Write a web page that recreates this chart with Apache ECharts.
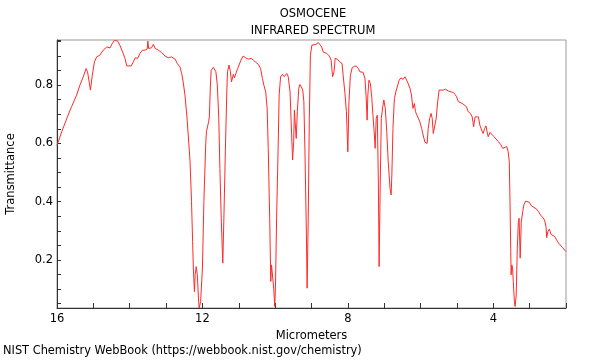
<!DOCTYPE html>
<html><head><meta charset="utf-8">
<script src="https://cdn.jsdelivr.net/npm/echarts@6/dist/echarts.min.js"></script>
<style>html,body{margin:0;padding:0;background:#fff}#c{width:600px;height:360px}</style>
</head><body><div id="c"></div>
<script>
var titleLines = ['OSMOCENE', 'INFRARED SPECTRUM'];
var xAxisName = 'Micrometers';
var yAxisName = 'Transmittance';
var footer = 'NIST Chemistry WebBook (https://webbook.nist.gov/chemistry)';
var xLabelValues = [16, 12, 8, 4];
var yLabelValues = [0.2, 0.4, 0.6, 0.8];

var micrometers = [16.00,15.87,15.73,15.60,15.46,15.37,15.28,15.20,15.16,15.08,15.03,14.97,14.91,14.82,14.73,14.63,14.54,14.48,14.42,14.33,14.27,14.18,14.13,14.08,13.96,13.90,13.85,13.78,13.72,13.65,13.58,
13.52,13.50,13.48,13.40,13.35,13.30,13.21,13.12,13.03,12.94,12.85,12.75,12.69,12.62,12.57,12.53,12.48,12.43,12.39,12.34,12.30,12.27,12.25,12.22,12.20,12.17,12.14,12.11,12.09,12.05,12.00,11.96,11.91,11.89,11.83,11.81,11.78,11.76,11.70,11.66,11.63,11.59,11.55,11.52,11.48,11.44,11.41,11.37,11.33,11.31,11.27,11.23,11.20,11.15,11.12,11.08,11.03,10.99,10.94,10.88,10.81,10.74,10.66,10.60,10.53,10.46,10.40,10.35,10.31,10.26,10.22,10.19,10.15,10.12,10.10,10.07,10.04,10.01,9.99,9.96,9.92,9.89,9.85,9.80,9.75,9.68,9.64,9.59,9.56,9.52,9.49,9.47,9.45,9.42,9.39,9.35,9.32,9.28,9.24,9.21,9.18,9.14,9.12,9.09,9.06,9.03,8.99,8.95,8.88,8.81,8.77,8.72,8.68,8.58,8.51,8.46,8.42,8.38,8.35,8.29,8.24,8.16,8.13,8.08,8.04,8.00,7.97,7.93,7.88,7.82,7.76,7.71,7.67,7.58,7.53,7.50,7.47,7.45,7.42,7.38,7.34,7.31,7.27,7.25,7.22,7.19,7.16,7.14,7.11,7.08,7.04,7.01,6.97,6.93,6.89,6.84,6.81,6.79,6.76,6.72,6.68,6.63,6.59,6.54,6.48,6.43,6.38,6.36,6.29,6.25,6.21,6.17,6.14,6.10,6.06,6.02,5.97,5.93,5.88,5.82,5.79,5.75,5.71,5.68,5.65,5.60,5.57,5.53,5.49,5.44,5.38,5.31,5.24,5.16,5.10,5.05,5.01,4.96,4.91,4.85,4.80,4.74,4.69,4.63,4.58,4.54,4.50,4.46,4.41,4.37,4.32,4.28,4.24,4.20,4.17,4.14,4.09,4.04,3.98,3.93,3.86,3.80,3.74,3.69,3.63,3.59,3.56,3.54,3.52,3.51,3.49,3.47,3.45,3.42,3.40,3.37,3.34,3.31,3.29,3.26,3.23,3.19,3.16,3.11,3.07,3.01,2.95,2.88,2.81,2.76,2.70,2.64,2.59,2.55,2.53,2.50,2.46,2.41,2.37,2.31,2.26,2.20,2.15,2.09,2.04,2.00];

var transmittance = [0.594,0.640,0.686,0.726,0.766,0.800,0.828,0.857,0.846,0.783,0.834,0.880,0.897,0.903,0.920,0.931,0.928,0.943,0.954,0.951,0.937,0.909,0.892,0.866,0.866,0.880,0.894,0.892,0.909,0.920,0.920,
0.924,0.951,0.926,0.928,0.940,0.926,0.920,0.912,0.900,0.894,0.897,0.889,0.874,0.863,0.840,0.811,0.766,0.697,0.629,0.537,0.400,0.263,0.172,0.091,0.149,0.177,0.149,0.069,0.034,0.057,0.172,0.400,0.594,0.640,0.674,0.691,0.800,0.851,0.861,0.863,0.846,0.800,0.686,0.514,0.331,0.189,0.343,0.571,0.777,0.846,0.869,0.846,0.811,0.837,0.825,0.840,0.857,0.855,0.886,0.900,0.894,0.889,0.892,0.886,0.878,0.871,0.857,0.823,0.800,0.777,0.720,0.583,0.343,0.126,0.183,0.189,0.103,0.040,0.114,0.343,0.571,0.766,0.829,0.837,0.829,0.840,0.829,0.777,0.674,0.543,0.606,0.714,0.674,0.617,0.709,0.789,0.802,0.794,0.783,0.743,0.571,0.286,0.103,0.343,0.686,0.903,0.937,0.943,0.940,0.946,0.943,0.931,0.914,0.909,0.900,0.886,0.829,0.846,0.892,0.889,0.882,0.874,0.834,0.772,0.709,0.571,0.743,0.834,0.860,0.865,0.865,0.857,0.846,0.844,0.823,0.766,0.680,0.766,0.817,0.806,0.754,0.697,0.629,0.583,0.686,0.697,0.457,0.177,0.457,0.686,0.726,0.749,0.720,0.640,0.537,0.446,0.423,0.491,0.651,0.754,0.777,0.783,0.817,0.825,0.820,0.829,0.829,0.811,0.789,0.766,0.720,0.737,0.709,0.697,0.703,0.674,0.651,0.629,0.604,0.600,0.651,0.686,0.703,0.686,0.634,0.634,0.686,0.743,0.783,0.789,0.783,0.786,0.780,0.777,0.775,0.768,0.760,0.743,0.749,0.737,0.731,0.726,0.709,0.703,0.691,0.657,0.691,0.697,0.691,0.663,0.646,0.634,0.651,0.660,0.640,0.623,0.638,0.634,0.623,0.617,0.606,0.597,0.583,0.581,0.589,0.571,0.537,0.400,0.229,0.149,0.183,0.172,0.126,0.057,0.040,0.080,0.240,0.331,0.343,0.206,0.331,0.366,0.389,0.402,0.403,0.398,0.386,0.380,0.375,0.366,0.354,0.346,0.337,0.314,0.277,0.297,0.306,0.288,0.286,0.280,0.269,0.257,0.251,0.242,0.234,0.229];

var points = micrometers.map(function (x, i) { return [x, transmittance[i]]; });
var FONT = 'DejaVu Sans';
var FS = 11.5;
function isLabel(list, v) {
  for (var i = 0; i < list.length; i++) if (Math.abs(list[i] - v) < 1e-6) return true;
  return false;
}

var chart = echarts.init(document.getElementById('c'), null, {renderer: 'canvas'});
chart.setOption({
  animation: false,
  backgroundColor: '#fff',
  title: {
    text: titleLines.join('\n'),
    left: 308, textAlign: 'center', top: 1,
    textStyle: {fontFamily: FONT, fontSize: FS, fontWeight: 'normal', color: '#000', lineHeight: 17}
  },
  graphic: [{
    type: 'text', left: 3, top: 346,
    style: {text: footer, fontFamily: FONT, fontSize: 11.4, fill: '#000'}
  }],
  grid: {left: 57, right: 34, top: 40, bottom: 52, outerBoundsMode: 'none', containLabel: false,
    show: true, borderColor: '#999', borderWidth: 1, backgroundColor: 'transparent'},
  xAxis: {
    type: 'value', inverse: true, min: 2, max: 16, interval: 1,
    name: xAxisName, nameLocation: 'middle', nameGap: 18,
    nameTextStyle: {fontFamily: FONT, fontSize: FS, color: '#000'},
    axisLine: {show: true, onZero: false, lineStyle: {color: '#333', width: 1}},
    axisTick: {show: true, inside: true, length: 5, lineStyle: {color: '#333'}},
    axisLabel: {fontFamily: FONT, fontSize: FS, color: '#000', margin: 5,
      formatter: function (v) { return isLabel(xLabelValues, v) ? String(v) : ''; }},
    splitLine: {show: false}
  },
  yAxis: {
    type: 'value', min: 0.035, max: 0.955, splitNumber: 18,
    name: yAxisName, nameLocation: 'middle', nameGap: 40,
    nameTextStyle: {fontFamily: FONT, fontSize: FS, color: '#000'},
    axisLine: {show: true, onZero: false, lineStyle: {color: '#333', width: 1}},
    axisTick: {show: true, inside: true, length: 4, lineStyle: {color: '#333'}},
    axisLabel: {fontFamily: FONT, fontSize: FS, color: '#000', margin: 4,
      formatter: function (v) { return isLabel(yLabelValues, v) ? v.toFixed(1) : ''; }},
    splitLine: {show: false}
  },
  series: [{
    type: 'line', data: points, showSymbol: false, symbol: 'none',
    lineStyle: {color: '#ff2a2a', width: 1}, clip: true
  }]
});
</script>
</body></html>
